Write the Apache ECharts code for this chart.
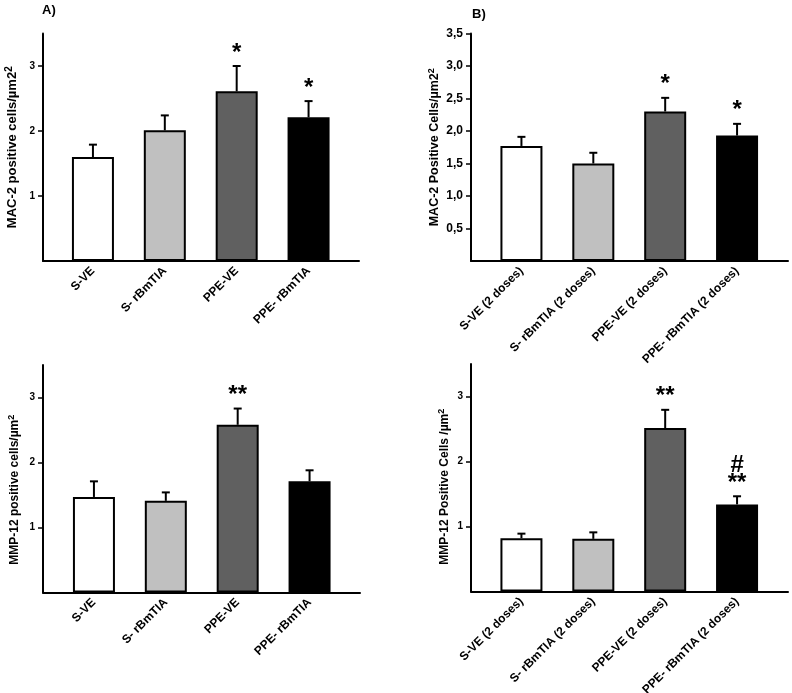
<!DOCTYPE html>
<html>
<head>
<meta charset="utf-8">
<script src="https://cdn.jsdelivr.net/npm/echarts@6/dist/echarts.min.js"></script>
<style>
html,body{margin:0;padding:0;background:#fff;}
#chart{width:792px;height:693px;}
</style>
</head>
<body>
<div id="chart"></div>
<script>
// ---- data ----
const categoriesA = ['S-VE', 'S- rBmTIA', 'PPE-VE', 'PPE- rBmTIA'];
const categoriesB = ['S-VE (2 doses)', 'S- rBmTIA (2 doses)', 'PPE-VE (2 doses)', 'PPE- rBmTIA (2 doses)'];

const mac2A = [1.60, 2.01, 2.61, 2.21];
const mac2AErr = [0.19, 0.23, 0.39, 0.25];
const mac2AMarks = ['', '', '*', '*'];

const mac2B = [1.77, 1.50, 2.30, 1.93];
const mac2BErr = [0.14, 0.165, 0.21, 0.18];
const mac2BMarks = ['', '', '*', '*'];

const mmp12A = [1.47, 1.41, 2.58, 1.71];
const mmp12AErr = [0.24, 0.13, 0.25, 0.17];
const mmp12AMarks = ['', '', '**', ''];

const mmp12B = [0.82, 0.81, 2.515, 1.34];
const mmp12BErr = [0.07, 0.10, 0.28, 0.125];
const mmp12BMarks = ['', '', '**', '#\n**'];

const ticksInt = [1, 2, 3];
const ticksHalf = [0.5, 1, 1.5, 2, 2.5, 3, 3.5];
const yMax = 3.5;

// ---- styles ----
const FONT = 'Arial, "Liberation Sans", Helvetica, sans-serif';
const barColors = ['#ffffff', '#c0c0c0', '#606060', '#000000'];

const panels = [
  { frame: {left: 43, top: 33.5, width: 316, height: 227.5},
    plot: {left: 57, top: 33.5, width: 287.5, height: 227.5},
    cats: categoriesA, vals: mac2A, errs: mac2AErr, marks: mac2AMarks,
    ticks: ticksInt, comma: false, tickFont: 10,
    name: 'MAC-2 positive cells/µm2{sup|2}', nameGap: 22, nameFont: 13, namePad: [0, 0, 0, 0] },
  { frame: {left: 471, top: 33.5, width: 317, height: 227.5},
    plot: {left: 485.5, top: 33.5, width: 287.5, height: 227.5},
    cats: categoriesB, vals: mac2B, errs: mac2BErr, marks: mac2BMarks,
    ticks: ticksHalf, comma: true, tickFont: 12,
    name: 'MAC-2 Positive Cells/µm2{sup|2}', nameGap: 29, nameFont: 12.5, namePad: [0, 0, 0, 0] },
  { frame: {left: 43, top: 365, width: 317, height: 227.5},
    plot: {left: 58, top: 365, width: 287.5, height: 227.5},
    cats: categoriesA, vals: mmp12A, errs: mmp12AErr, marks: mmp12AMarks,
    ticks: ticksInt, comma: false, tickFont: 10,
    name: 'MMP-12 positive cells/µm{sup|2}', nameGap: 21, nameFont: 12, namePad: [0, 22, 0, 0] },
  { frame: {left: 471, top: 364, width: 317, height: 227.5},
    plot: {left: 485.5, top: 364, width: 287.5, height: 227.5},
    cats: categoriesB, vals: mmp12B, errs: mmp12BErr, marks: mmp12BMarks,
    ticks: ticksInt, comma: false, tickFont: 10,
    name: 'MMP-12 Positive Cells /µm{sup|2}', nameGap: 19, nameFont: 12, namePad: [0, 18, 0, 0] }
];

const grid = [], xAxis = [], yAxis = [], series = [];

panels.forEach((p, i) => {
  const fi = i * 2, pi = i * 2 + 1;
  grid.push(Object.assign({containLabel: false, outerBoundsMode: 'none'}, p.frame));
  grid.push(Object.assign({containLabel: false, outerBoundsMode: 'none'}, p.plot));
  // frame axes
  xAxis.push({gridIndex: fi, type: 'value', min: 0, max: 1,
    axisLine: {show: true, lineStyle: {color: '#000', width: 2}},
    axisTick: {show: false}, axisLabel: {show: false}, splitLine: {show: false}});
  yAxis.push({gridIndex: fi, type: 'value', min: 0, max: yMax,
    axisLine: {show: true, lineStyle: {color: '#000', width: 2}},
    axisTick: {show: true, length: 5, lineStyle: {color: '#000', width: 1.5}, customValues: p.ticks},
    axisLabel: {show: true, customValues: p.ticks, margin: 8, color: '#000',
      fontFamily: FONT, fontWeight: 'bold', fontSize: p.tickFont,
      formatter: v => p.comma ? v.toFixed(1).replace('.', ',') : String(v)},
    splitLine: {show: false},
    name: p.name, nameLocation: 'middle', nameGap: p.nameGap, nameRotate: 90,
    nameTextStyle: {color: '#000', fontFamily: FONT, fontWeight: 'bold', fontSize: p.nameFont, padding: p.namePad,
      rich: {sup: {fontFamily: FONT, fontWeight: 'bold', fontSize: Math.round(p.nameFont * 0.75), padding: [0, 0, Math.round(p.nameFont * 0.5), 0], color: '#000'}}}
  });
  // plot axes
  xAxis.push({gridIndex: pi, type: 'category', data: p.cats, boundaryGap: true,
    axisLine: {show: false}, axisTick: {show: false}, splitLine: {show: false},
    axisLabel: {rotate: 45, interval: 0, margin: 8, color: '#000', fontFamily: FONT,
      fontWeight: 'bold', fontSize: 12}});
  yAxis.push({gridIndex: pi, type: 'value', min: 0, max: yMax, show: false, splitLine: {show: false}});

  series.push({
    type: 'bar', xAxisIndex: pi, yAxisIndex: pi, barWidth: 42, z: 3,
    data: p.vals.map((v, k) => ({value: v, itemStyle: {color: barColors[k], borderColor: '#000', borderWidth: 2}})),
    silent: true, animation: false
  });
  const marks = p.marks;
  series.push({
    type: 'custom', xAxisIndex: pi, yAxisIndex: pi, z: 2, silent: true, animation: false,
    data: p.vals.map((v, k) => [k, v, p.errs[k]]),
    encode: {x: 0, y: 1},
    renderItem: (params, api) => {
      const k = api.value(0), v = api.value(1), e = api.value(2);
      const b = api.coord([k, v]);
      const t = api.coord([k, v + e]);
      const children = [
        {type: 'line', shape: {x1: b[0], y1: b[1], x2: t[0], y2: t[1]}, style: {stroke: '#000', lineWidth: 2}},
        {type: 'line', shape: {x1: t[0] - 4, y1: t[1], x2: t[0] + 4, y2: t[1]}, style: {stroke: '#000', lineWidth: 2}}
      ];
      const m = marks[params.dataIndex];
      if (m) {
        children.push({type: 'text', x: t[0], y: t[1] - 4,
          style: {text: m, fill: '#000', font: 'bold 24px ' + FONT, align: 'center', verticalAlign: 'bottom', lineHeight: 18}});
      }
      return {type: 'group', children};
    }
  });
});

const chart = echarts.init(document.getElementById('chart'), null, {renderer: 'canvas'});
chart.setOption({
  backgroundColor: '#fff',
  animation: false,
  title: [
    {text: 'A)', left: 42, top: 4, padding: 0, textStyle: {fontFamily: FONT, fontWeight: 'bold', fontSize: 13, color: '#000'}},
    {text: 'B)', left: 472, top: 8, padding: 0, textStyle: {fontFamily: FONT, fontWeight: 'bold', fontSize: 13, color: '#000'}}
  ],
  grid, xAxis, yAxis, series
});
</script>
</body>
</html>
